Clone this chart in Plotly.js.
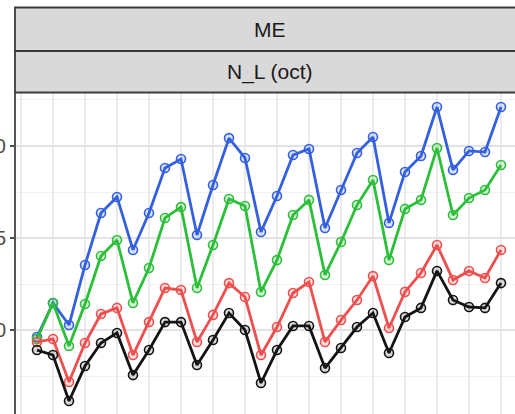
<!DOCTYPE html>
<html>
<head>
<meta charset="utf-8">
<script src="https://cdn.plot.ly/plotly-3.0.1.min.js"></script>
<style>
  html, body { margin: 0; padding: 0; background: #ffffff; }
  #chart { width: 515px; height: 414px; }
</style>
</head>
<body>
<div id="chart"></div>
<script>
// Period index along the x axis
const periods = Array.from({length: 30}, (_, i) => i + 1);

// Series values, one per period
const seriesBlue = [-0.38, 1.47, 0.27, 3.53, 6.36, 7.23, 4.35, 6.36, 8.80, 9.29,
                    5.16, 7.88, 10.43, 9.35, 5.33, 7.28, 9.51, 9.84, 5.54, 7.61,
                    9.62, 10.49, 5.82, 8.59, 9.46, 12.12, 8.70, 9.73, 9.67, 12.12];
const seriesGreen = [-0.49, 1.47, -0.87, 1.41, 4.02, 4.89, 1.47, 3.37, 6.09, 6.68,
                     2.28, 4.62, 7.12, 6.74, 2.07, 3.80, 6.25, 7.07, 2.99, 4.78,
                     6.79, 8.15, 3.80, 6.58, 7.07, 9.89, 6.25, 7.17, 7.61, 8.97];
const seriesRed = [-0.65, -0.49, -2.83, -0.71, 0.87, 1.20, -1.36, 0.43, 2.28, 2.17,
                   -0.65, 0.82, 2.55, 1.79, -1.36, 0.16, 2.01, 2.61, -0.65, 0.54,
                   1.63, 2.93, 0.11, 2.07, 3.10, 4.62, 2.72, 3.21, 2.83, 4.35];
const seriesBlack = [-1.09, -1.36, -3.86, -1.96, -0.71, -0.16, -2.45, -1.09, 0.43, 0.43,
                     -1.90, -0.54, 0.92, 0.00, -2.88, -1.09, 0.22, 0.22, -2.07, -0.98,
                     0.16, 0.92, -1.25, 0.71, 1.20, 3.21, 1.63, 1.25, 1.20, 2.55];

// Y tick positions and labels
const yTickVals = [0, 5, 10];
const yTickText = ['0', '5', '10'];

// Facet strip labels
const stripOuter = 'ME';
const stripInner = 'N_L (oct)';

function series(y, color, fill) {
  return {
    x: periods, y: y, type: 'scatter', mode: 'lines+markers',
    line: {color: color, width: 2.8},
    marker: {symbol: 'circle', size: 9, color: fill, line: {color: color, width: 1.6}},
    hoverinfo: 'x+y', showlegend: false
  };
}

const data = [
  series(seriesBlue, '#3460e0', 'rgba(52,96,224,0.18)'),
  series(seriesGreen, '#2cbf3a', 'rgba(44,191,58,0.18)'),
  series(seriesRed, '#ee4f4f', 'rgba(238,79,79,0.18)'),
  series(seriesBlack, '#141414', 'rgba(20,20,20,0.15)')
];

const stripFill = '#d9d9d9';
const stripLine = '#3a3a3a';

const layout = {
  width: 515, height: 414,
  margin: {l: 16, r: 0, t: 93, b: 0, pad: 0},
  paper_bgcolor: '#ffffff', plot_bgcolor: '#ffffff',
  font: {family: 'Liberation Sans, Arial, sans-serif', color: '#4d4d4d'},
  xaxis: {
    range: [-0.3125, 30.875],
    tick0: 0, dtick: 2,
    showticklabels: false, ticks: '',
    showgrid: true, gridcolor: '#ebebeb', gridwidth: 1.2,
    zeroline: false, showline: false
  },
  yaxis: {
    range: [-4.565, 12.88],
    tickvals: yTickVals, ticktext: yTickText,
    ticks: 'outside', ticklen: 4, tickwidth: 1.5, tickcolor: '#4d4d4d',
    tickfont: {size: 20, color: '#4d4d4d'},
    showgrid: true, gridcolor: '#e3e3e3', gridwidth: 1.3,
    minor: {tickvals: [-2.5, 2.5, 7.5, 12.5], showgrid: true, gridcolor: '#f2f2f2', gridwidth: 1},
    zeroline: false,
    showline: true, linecolor: '#555555', linewidth: 2
  },
  shapes: [
    // reference line at zero
    {type: 'line', xref: 'paper', yref: 'y', x0: 0, x1: 1, y0: 0, y1: 0,
     line: {color: '#a6a6a6', width: 1.6, dash: '8px,6px'}, layer: 'below'},
    // outer facet strip
    {type: 'rect', xref: 'paper', yref: 'paper', x0: -0.002, x1: 1.03, y0: 1.1308, y1: 1.2664,
     fillcolor: stripFill, line: {color: stripLine, width: 1.8}},
    // inner facet strip
    {type: 'rect', xref: 'paper', yref: 'paper', x0: -0.002, x1: 1.03, y0: 1.0016, y1: 1.1308,
     fillcolor: stripFill, line: {color: stripLine, width: 1.8}}
  ],
  annotations: [
    {text: stripOuter, xref: 'paper', yref: 'paper', x: 0.509, y: 1.1978,
     xanchor: 'center', yanchor: 'middle', showarrow: false,
     font: {size: 21, color: '#1a1a1a'}},
    {text: stripInner, xref: 'paper', yref: 'paper', x: 0.509, y: 1.0654,
     xanchor: 'center', yanchor: 'middle', showarrow: false,
     font: {size: 21, color: '#1a1a1a'}}
  ]
};

Plotly.newPlot('chart', data, layout, {staticPlot: true, displayModeBar: false});
</script>
</body>
</html>
